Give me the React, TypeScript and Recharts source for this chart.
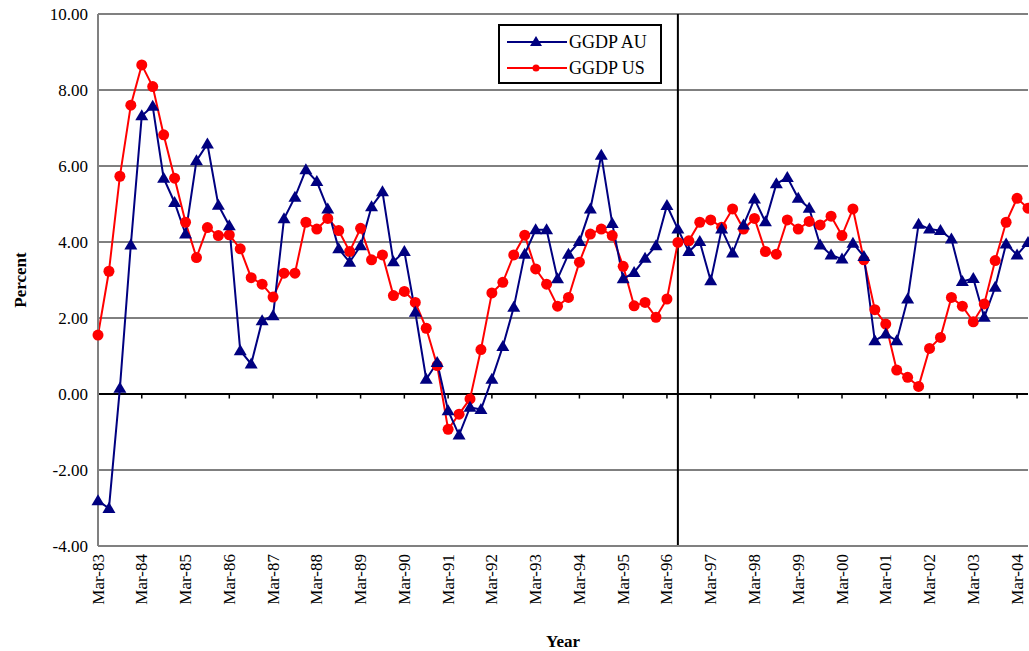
import React from 'react';
import { LineChart, Line, XAxis, YAxis, CartesianGrid, ReferenceLine } from 'recharts';

const YEARS = ['83', '84', '85', '86', '87', '88', '89', '90', '91', '92', '93', '94', '95', '96', '97', '98', '99', '00', '01', '02', '03', '04'];
const MONTHS = ['Mar', 'Jun', 'Sep', 'Dec'];
const categories = YEARS.flatMap((y) => MONTHS.map((m) => `${m}-${y}`)).slice(0, 86);

// quarterly growth, AU
const ggdpAU = [
  -2.81, -3.01, 0.15, 3.92, 7.32, 7.57, 5.68, 5.04, 4.21, 6.14, 6.58, 4.97,
  4.43, 1.14, 0.79, 1.93, 2.06, 4.61, 5.18, 5.9, 5.59, 4.87, 3.82, 3.47,
  3.9, 4.93, 5.32, 3.48, 3.75, 2.15, 0.39, 0.83, -0.44, -1.08, -0.35, -0.41,
  0.39, 1.25, 2.28, 3.68, 4.32, 4.32, 3.03, 3.68, 4.01, 4.87, 6.28, 4.49,
  3.03, 3.2, 3.57, 3.9, 4.96, 4.34, 3.75, 4.01, 2.98, 4.34, 3.71, 4.45,
  5.13, 4.53, 5.53, 5.7, 5.15, 4.89, 3.92, 3.66, 3.55, 3.97, 3.62, 1.4,
  1.58, 1.4, 2.5, 4.47, 4.34, 4.3, 4.08, 2.96, 3.04, 2.02, 2.81, 3.95,
  3.66, 3.99,
];

// quarterly growth, US
const ggdpUS = [
  1.55, 3.23, 5.73, 7.6, 8.66, 8.09, 6.82, 5.68, 4.52, 3.59, 4.38, 4.17,
  4.19, 3.82, 3.06, 2.89, 2.55, 3.18, 3.18, 4.52, 4.34, 4.62, 4.3, 3.75,
  4.36, 3.53, 3.66, 2.59, 2.7, 2.41, 1.73, 0.75, -0.93, -0.53, -0.13, 1.17,
  2.66, 2.94, 3.66, 4.18, 3.29, 2.89, 2.31, 2.54, 3.47, 4.21, 4.34, 4.17,
  3.36, 2.32, 2.41, 2.02, 2.5, 3.99, 4.03, 4.52, 4.58, 4.39, 4.87, 4.34,
  4.62, 3.75, 3.68, 4.58, 4.34, 4.54, 4.45, 4.68, 4.17, 4.87, 3.53, 2.22,
  1.84, 0.63, 0.44, 0.2, 1.2, 1.49, 2.54, 2.31, 1.9, 2.37, 3.51, 4.52,
  5.15, 4.89,
];

const yTicks = [-4, -2, 0, 2, 4, 6, 8, 10];
const breakAt = 'Jun-96';

const data = categories.map((q, i) => ({ q, au: ggdpAU[i], us: ggdpUS[i] }));
const yearTicks = categories.filter((c) => c.startsWith('Mar'));

const FONT = '"Liberation Serif", "Times New Roman", serif';
const NAVY = '#000080';
const RED = '#ff0000';

const Triangle = (p: any) => {
  const { cx, cy } = p;
  if (cx == null || cy == null) return null;
  return <polygon points={`${cx},${cy - 6.5} ${cx - 6.5},${cy + 4.5} ${cx + 6.5},${cy + 4.5}`} fill={NAVY} stroke="none" />;
};

const XTick = ({ x, y, payload }: any) => (
  <text
    x={x}
    y={y}
    transform={`rotate(-90 ${x} ${y})`}
    textAnchor="end"
    dominantBaseline="central"
    style={{ fontFamily: FONT, fontSize: 17 }}
    fill="#000"
  >
    {payload.value}
  </text>
);

const YTick = ({ x, y, payload }: any) => (
  <text x={x} y={y} textAnchor="end" dominantBaseline="central" style={{ fontFamily: FONT, fontSize: 17 }} fill="#000">
    {Number(payload.value).toFixed(2)}
  </text>
);

const LegendBox = () => (
  <div
    style={{
      position: 'absolute', left: 498, top: 24, width: 164, height: 60, border: '2px solid #000',
      background: '#fff', fontFamily: FONT, fontSize: 18, boxSizing: 'border-box', paddingTop: 3,
    }}
  >
    {[{ name: 'GGDP AU', color: NAVY, tri: true }, { name: 'GGDP US', color: RED, tri: false }].map((it) => (
      <div key={it.name} style={{ display: 'flex', alignItems: 'center', height: 26 }}>
        <svg width={62} height={14} style={{ marginLeft: 7, flexShrink: 0 }}>
          <line x1={0} y1={7} x2={60} y2={7} stroke={it.color} strokeWidth={2} />
          {it.tri ? (
            <polygon points="29,1 23,11 35,11" fill={it.color} />
          ) : (
            <circle cx={29} cy={7} r={3.5} fill={it.color} />
          )}
        </svg>
        <span style={{ lineHeight: 1, whiteSpace: 'nowrap' }}>{it.name}</span>
      </div>
    ))}
  </div>
);

export default function App() {
  return (
    <div style={{ position: 'absolute', left: 0, top: 0, width: 1029, height: 651, overflow: 'hidden', background: '#fff' }}>
      <LineChart width={1040} height={651} data={data} margin={{ top: 14, right: 12, bottom: 0, left: 0 }}>
        <CartesianGrid vertical={false} stroke="#000" strokeWidth={1} />
        <XAxis
          dataKey="q"
          interval={3}
          height={105}
          tick={<XTick />}
          tickLine={false}
          tickMargin={2}
          axisLine={{ stroke: '#808080', strokeWidth: 2 }}
          label={{ value: 'Year', position: 'insideBottom', offset: 4, style: { fontFamily: FONT, fontSize: 17, fontWeight: 'bold', fill: '#000' } }}
        />
        <YAxis
          domain={[-4, 10]}
          ticks={yTicks}
          width={98}
          interval={0}
          tick={<YTick />}
          tickLine={false}
          tickMargin={4}
          axisLine={{ stroke: '#808080', strokeWidth: 2 }}
          label={{
            content: ({ viewBox }: any) => (
              <text
                x={20}
                y={viewBox.y + viewBox.height / 2}
                transform={`rotate(-90 20 ${viewBox.y + viewBox.height / 2})`}
                textAnchor="middle"
                dominantBaseline="central"
                style={{ fontFamily: FONT, fontSize: 17, fontWeight: 'bold' }}
                fill="#000"
              >
                Percent
              </text>
            ),
          }}
        />
        <ReferenceLine y={10} stroke="#808080" strokeWidth={2} />
        <ReferenceLine y={0} stroke="#000" strokeWidth={2} />
        {yearTicks.map((c) => (
          <ReferenceLine key={c} segment={[{ x: c, y: 0 }, { x: c, y: -0.12 }]} stroke="#000" strokeWidth={1.5} ifOverflow="visible" />
        ))}
        <ReferenceLine x={breakAt} stroke="#000" strokeWidth={2} />
        <Line dataKey="us" stroke={RED} strokeWidth={2} dot={{ r: 5.5, fill: RED, stroke: RED, strokeWidth: 0 }} isAnimationActive={false} />
        <Line dataKey="au" stroke={NAVY} strokeWidth={2} dot={<Triangle />} isAnimationActive={false} />
      </LineChart>
      <LegendBox />
    </div>
  );
}
